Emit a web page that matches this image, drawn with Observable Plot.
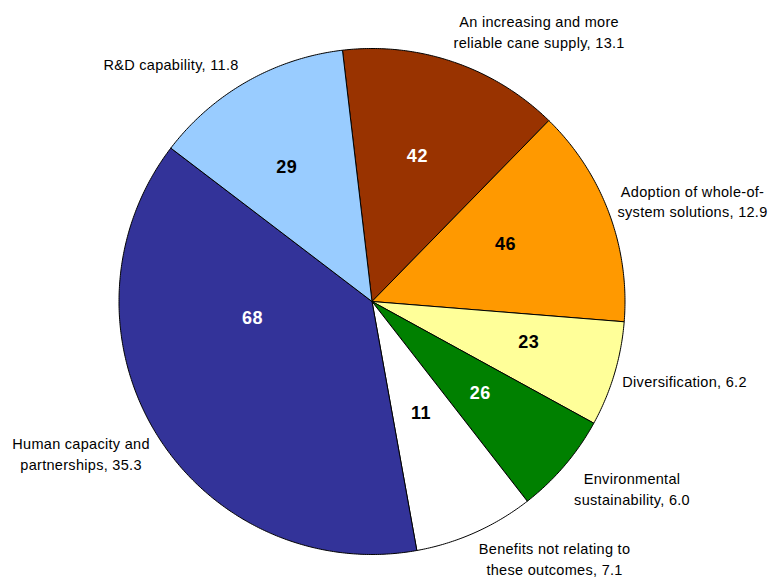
<!DOCTYPE html>
<html>
<head>
<meta charset="utf-8">
<script src="https://cdn.jsdelivr.net/npm/d3@7"></script>
<script src="https://cdn.jsdelivr.net/npm/@observablehq/plot@0.6"></script>
<style>
  html, body { margin: 0; padding: 0; background: #ffffff; }
  #chart svg { display: block; }
</style>
</head>
<body>
<div id="chart"></div>
<script>
// ---- data ----
const categories = [
  "An increasing and more\nreliable cane supply",
  "Adoption of whole-of-\nsystem solutions",
  "Diversification",
  "Environmental\nsustainability",
  "Benefits not relating to\nthese outcomes",
  "Human capacity and\npartnerships",
  "R&D capability"
];
const shares = [13.1, 12.9, 6.2, 6.0, 7.1, 35.3, 11.8];
const counts = [42, 46, 23, 26, 11, 68, 29];
const sliceColors = ["#993300", "#FF9900", "#FFFF99", "#008000", "#FFFFFF", "#333399", "#99CCFF"];
const countColors = ["#FFFFFF", "#000000", "#000000", "#FFFFFF", "#000000", "#FFFFFF", "#000000"];

// ---- layout ----
const W = 773, H = 577;
const cx = 371.5, cy = 301, R = 253;
const startDeg = -6.7;
const innerR = 150;
const innerNudge = [[-3, -3], [-7, -5], [13, -2], [-6, -6], [-12, -25], [8.5, -61.7], [-11, -4]];
const outerNudge = [[85.5, -31], [83.6, -12.3], [70.2, 6.4], [67.5, 21.9], [79.5, 25.4], [-75.1, 19.1], [-75.7, -18.5]];

const total = d3.sum(shares);
const slices = [];
let acc = startDeg;
shares.forEach((v, i) => {
  const span = v / total * 360;
  slices.push({i, a0: acc, a1: acc + span, mid: acc + span / 2});
  acc += span;
});
const rad = d => d * Math.PI / 180;
const px = (a, r) => cx + r * Math.sin(rad(a));
const py = (a, r) => cy - r * Math.cos(rad(a));

const poly = [];
slices.forEach(s => {
  const key = categories[s.i];
  poly.push({key, color: sliceColors[s.i], x: cx, y: cy});
  const n = Math.max(2, Math.ceil((s.a1 - s.a0) / 0.5));
  for (let k = 0; k <= n; k++) {
    const a = s.a0 + (s.a1 - s.a0) * k / n;
    poly.push({key, color: sliceColors[s.i], x: px(a, R), y: py(a, R)});
  }
  poly.push({key, color: sliceColors[s.i], x: cx, y: cy});
});

const inner = slices.map(s => ({
  text: String(counts[s.i]),
  color: countColors[s.i],
  x: px(s.mid, innerR) + innerNudge[s.i][0],
  y: py(s.mid, innerR) + innerNudge[s.i][1]
}));
const outer = slices.map(s => ({
  text: categories[s.i] + ", " + shares[s.i].toFixed(1),
  x: px(s.mid, R) + outerNudge[s.i][0],
  y: py(s.mid, R) + outerNudge[s.i][1]
}));

const chart = Plot.plot({
  width: W,
  height: H,
  margin: 0,
  style: {background: "#ffffff", fontFamily: "'Liberation Sans', Arial, sans-serif"},
  x: {domain: [0, W], range: [0, W], axis: null},
  y: {domain: [0, H], range: [0, H], axis: null},
  color: {type: "identity"},
  marks: [
    Plot.line(poly, {x: "x", y: "y", z: "key", fill: "color", stroke: "#000000", strokeWidth: 1, strokeLinejoin: "round"}),
    Plot.text(inner, {x: "x", y: "y", text: "text", fill: "color", fontSize: 18, fontWeight: "bold", textAnchor: "middle", lineAnchor: "middle"}),
    Plot.text(outer, {x: "x", y: "y", text: "text", fill: "#000000", fontSize: 14.5, textAnchor: "middle", lineAnchor: "middle", lineHeight: 1.43})
  ]
});
chart.querySelectorAll("g[aria-label='text']").forEach((g, idx) => {
  if (idx === 1) g.setAttribute("letter-spacing", "0.3");
  if (idx === 0) g.setAttribute("letter-spacing", "0.5");
});
document.getElementById("chart").appendChild(chart);
</script>
</body>
</html>
